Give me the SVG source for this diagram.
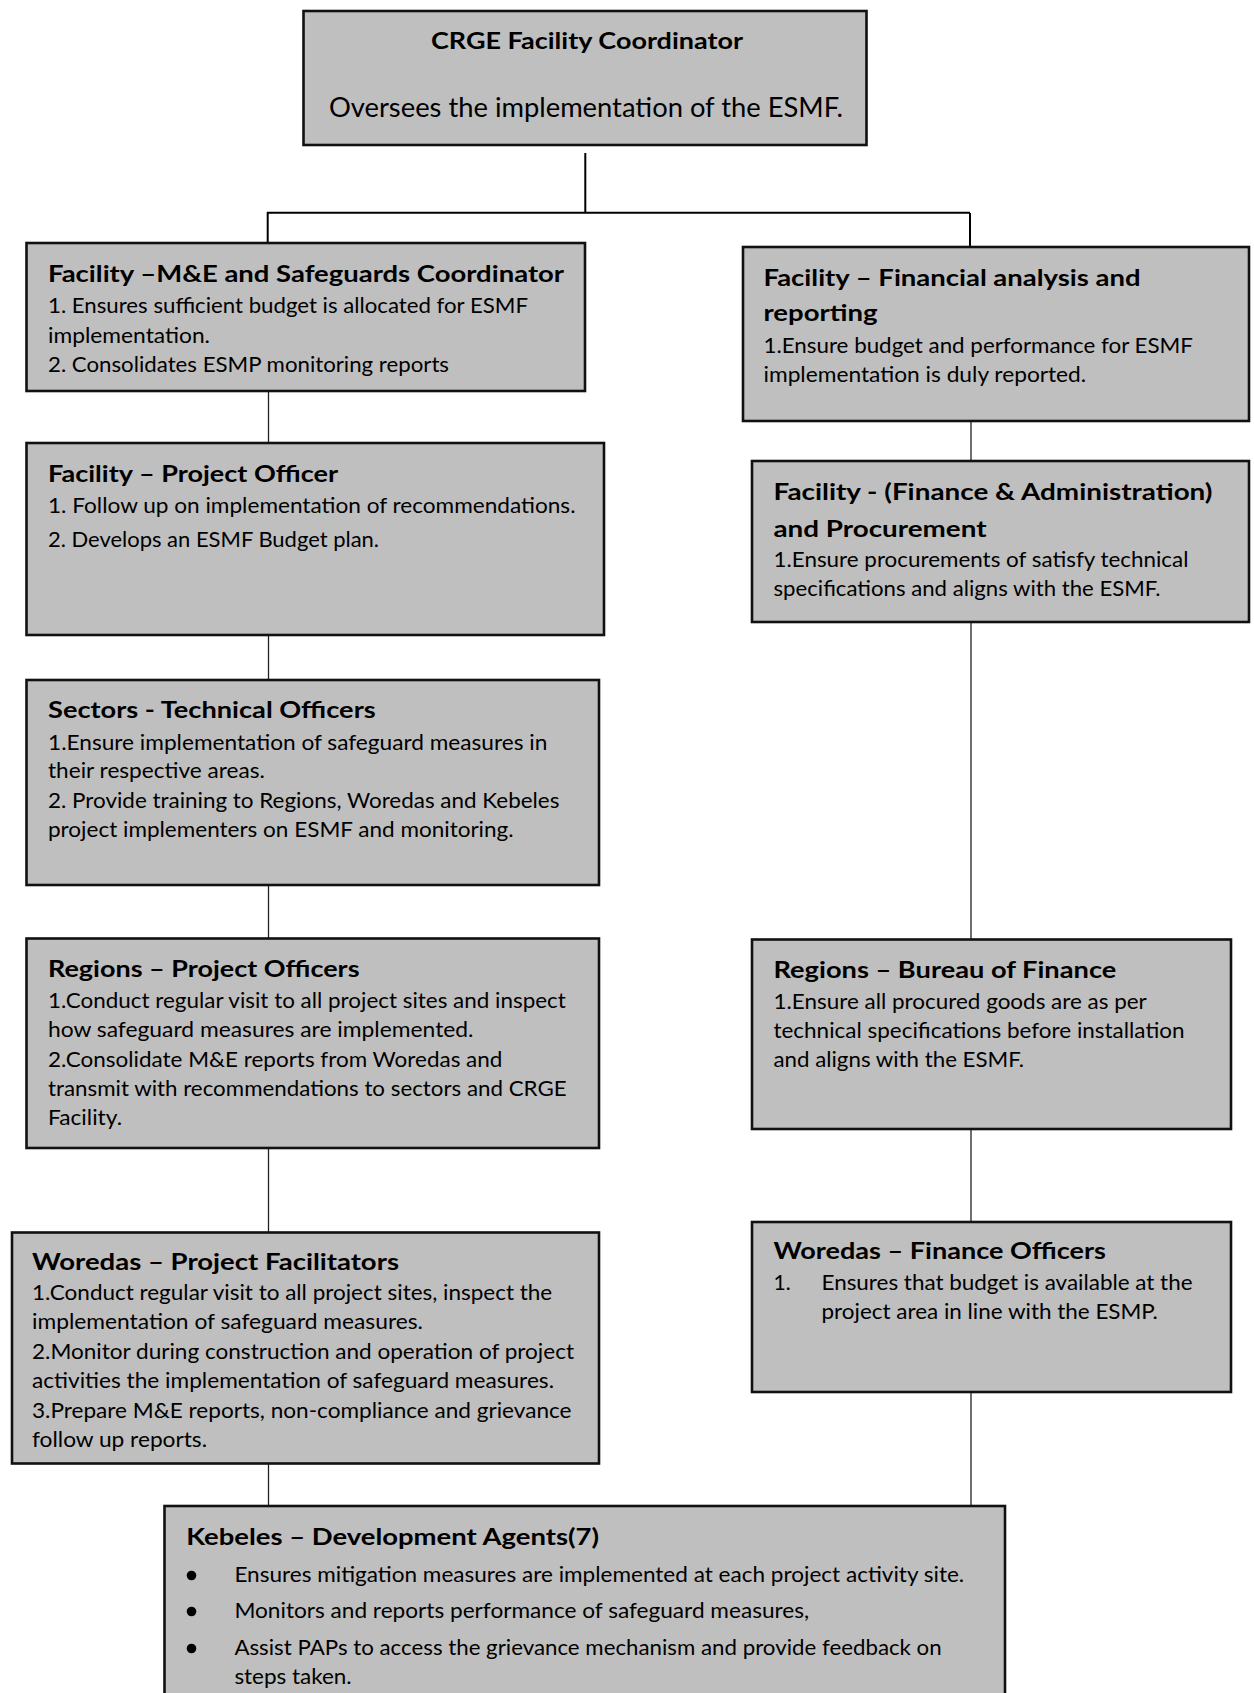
<svg xmlns="http://www.w3.org/2000/svg" width="1254" height="1693" viewBox="0 0 1254 1693">
<style>
.box{fill:#bfbfbf;stroke:#111;stroke-width:2.6}
.t{font-family:Lato,"Open Sans","Liberation Sans",sans-serif;font-weight:bold;font-size:23px;fill:#000}
.b{font-family:Lato,"Open Sans","Liberation Sans",sans-serif;font-size:21px;fill:#000}
.big{font-family:Lato,"Open Sans","Liberation Sans",sans-serif;font-size:26px;fill:#000}
.c1{stroke:#000;stroke-width:2;fill:none}
.c2{stroke:#222;stroke-width:1.3;fill:none}
</style>
<rect width="1254" height="1693" fill="#fff"/>
<g id="connectors">
<path class="c1" d="M585.3 153V213M267 212.7H970M267.7 212V243M970 213V247"/>
<path class="c2" d="M268.5 391V443M268.5 635V680M268.5 885V938.5M268.5 1148V1232.5M268.5 1463.5V1506"/>
<path class="c2" d="M971 421V461M971 622V939.5M971 1129V1222M971 1392V1506"/>
</g>
<g id="crge-coordinator">
<rect class="box" x="303.5" y="11" width="563" height="134"/>
<text class="t" x="431" y="49" textLength="312" lengthAdjust="spacingAndGlyphs">CRGE Facility Coordinator</text>
<text class="big" x="329" y="117" textLength="514" lengthAdjust="spacingAndGlyphs">Oversees the implementation of the ESMF.</text>
</g>
<g id="me-safeguards">
<rect class="box" x="26.5" y="243" width="558.5" height="148"/>
<text class="t" x="48" y="282" textLength="516" lengthAdjust="spacingAndGlyphs">Facility –M&amp;E and Safeguards Coordinator</text>
<text class="b" x="48" y="313" textLength="480" lengthAdjust="spacingAndGlyphs">1. Ensures sufficient budget is allocated for ESMF</text>
<text class="b" x="48" y="342.5" textLength="162" lengthAdjust="spacingAndGlyphs">implementation.</text>
<text class="b" x="48" y="372" textLength="401" lengthAdjust="spacingAndGlyphs">2. Consolidates ESMP monitoring reports</text>
</g>
<g id="financial-analysis">
<rect class="box" x="743" y="247" width="506" height="174"/>
<text class="t" x="763.5" y="286" textLength="377" lengthAdjust="spacingAndGlyphs">Facility – Financial analysis and</text>
<text class="t" x="763.5" y="320.5" textLength="114" lengthAdjust="spacingAndGlyphs">reporting</text>
<text class="b" x="763.5" y="352.7" textLength="429.5" lengthAdjust="spacingAndGlyphs">1.Ensure budget and performance for ESMF</text>
<text class="b" x="763.5" y="381.7" textLength="322.7" lengthAdjust="spacingAndGlyphs">implementation is duly reported.</text>
</g>
<g id="project-officer">
<rect class="box" x="26.5" y="443" width="577.5" height="192"/>
<text class="t" x="48" y="482" textLength="290" lengthAdjust="spacingAndGlyphs">Facility – Project Officer</text>
<text class="b" x="48" y="513.3" textLength="527.5" lengthAdjust="spacingAndGlyphs">1. Follow up on implementation of recommendations.</text>
<text class="b" x="48" y="547.3" textLength="331" lengthAdjust="spacingAndGlyphs">2. Develops an ESMF Budget plan.</text>
</g>
<g id="finance-admin-procurement">
<rect class="box" x="752" y="461" width="497" height="161"/>
<text class="t" x="773.5" y="500" textLength="439" lengthAdjust="spacingAndGlyphs">Facility - (Finance &amp; Administration)</text>
<text class="t" x="773.5" y="537.3" textLength="213" lengthAdjust="spacingAndGlyphs">and Procurement</text>
<text class="b" x="773.5" y="566.7" textLength="415" lengthAdjust="spacingAndGlyphs">1.Ensure procurements of satisfy technical</text>
<text class="b" x="773.5" y="596" textLength="387" lengthAdjust="spacingAndGlyphs">specifications and aligns with the ESMF.</text>
</g>
<g id="sectors-technical">
<rect class="box" x="26.5" y="680" width="572.5" height="205"/>
<text class="t" x="48" y="717.7" textLength="327.7" lengthAdjust="spacingAndGlyphs">Sectors - Technical Officers</text>
<text class="b" x="48" y="750" textLength="499.4" lengthAdjust="spacingAndGlyphs">1.Ensure implementation of safeguard measures in</text>
<text class="b" x="48" y="778.3" textLength="216.8" lengthAdjust="spacingAndGlyphs">their respective areas.</text>
<text class="b" x="48" y="808.3" textLength="511.4" lengthAdjust="spacingAndGlyphs">2. Provide training to Regions, Woredas and Kebeles</text>
<text class="b" x="48" y="837.3" textLength="465.6" lengthAdjust="spacingAndGlyphs">project implementers on ESMF and monitoring.</text>
</g>
<g id="regions-project-officers">
<rect class="box" x="26.5" y="938.5" width="572.5" height="209.5"/>
<text class="t" x="48" y="977" textLength="311.5" lengthAdjust="spacingAndGlyphs">Regions – Project Officers</text>
<text class="b" x="48" y="1008" textLength="517.8" lengthAdjust="spacingAndGlyphs">1.Conduct regular visit to all project sites and inspect</text>
<text class="b" x="48" y="1037" textLength="425.5" lengthAdjust="spacingAndGlyphs">how safeguard measures are implemented.</text>
<text class="b" x="48" y="1067" textLength="454.4" lengthAdjust="spacingAndGlyphs">2.Consolidate M&amp;E reports from Woredas and</text>
<text class="b" x="48" y="1096" textLength="518.6" lengthAdjust="spacingAndGlyphs">transmit with recommendations to sectors and CRGE</text>
<text class="b" x="48" y="1125" textLength="74" lengthAdjust="spacingAndGlyphs">Facility.</text>
</g>
<g id="regions-bureau-finance">
<rect class="box" x="752" y="939.5" width="479" height="189.5"/>
<text class="t" x="773.5" y="978" textLength="342.8" lengthAdjust="spacingAndGlyphs">Regions – Bureau of Finance</text>
<text class="b" x="773.5" y="1009" textLength="373.3" lengthAdjust="spacingAndGlyphs">1.Ensure all procured goods are as per</text>
<text class="b" x="773.5" y="1038" textLength="411" lengthAdjust="spacingAndGlyphs">technical specifications before installation</text>
<text class="b" x="773.5" y="1067" textLength="250.5" lengthAdjust="spacingAndGlyphs">and aligns with the ESMF.</text>
</g>
<g id="woredas-project-facilitators">
<rect class="box" x="12" y="1232.5" width="587" height="231"/>
<text class="t" x="32" y="1270" textLength="367" lengthAdjust="spacingAndGlyphs">Woredas – Project Facilitators</text>
<text class="b" x="32" y="1300" textLength="520.2" lengthAdjust="spacingAndGlyphs">1.Conduct regular visit to all project sites, inspect the</text>
<text class="b" x="32" y="1329" textLength="391" lengthAdjust="spacingAndGlyphs">implementation of safeguard measures.</text>
<text class="b" x="32" y="1359" textLength="542" lengthAdjust="spacingAndGlyphs">2.Monitor during construction and operation of project</text>
<text class="b" x="32" y="1388" textLength="522" lengthAdjust="spacingAndGlyphs">activities the implementation of safeguard measures.</text>
<text class="b" x="32" y="1418" textLength="539.5" lengthAdjust="spacingAndGlyphs">3.Prepare M&amp;E reports, non-compliance and grievance</text>
<text class="b" x="32" y="1447" textLength="175" lengthAdjust="spacingAndGlyphs">follow up reports.</text>
</g>
<g id="woredas-finance-officers">
<rect class="box" x="752" y="1222" width="479" height="170"/>
<text class="t" x="773.5" y="1259" textLength="332.4" lengthAdjust="spacingAndGlyphs">Woredas – Finance Officers</text>
<text class="b" x="773.5" y="1290">1.</text>
<text class="b" x="821.5" y="1290" textLength="371" lengthAdjust="spacingAndGlyphs">Ensures that budget is available at the</text>
<text class="b" x="821.5" y="1319" textLength="336.4" lengthAdjust="spacingAndGlyphs">project area in line with the ESMP.</text>
</g>
<g id="kebeles-development-agents">
<rect class="box" x="164.5" y="1506" width="840.5" height="200"/>
<text class="t" x="186.3" y="1545" textLength="412.7" lengthAdjust="spacingAndGlyphs">Kebeles – Development Agents(7)</text>
<circle cx="191.5" cy="1575.5" r="4.8" fill="#000"/>
<circle cx="191.5" cy="1611.5" r="4.8" fill="#000"/>
<circle cx="191.5" cy="1648.5" r="4.8" fill="#000"/>
<text class="b" x="234.4" y="1582" textLength="729.8" lengthAdjust="spacingAndGlyphs">Ensures mitigation measures are implemented at each project activity site.</text>
<text class="b" x="234.4" y="1618" textLength="574.8" lengthAdjust="spacingAndGlyphs">Monitors and reports performance of safeguard measures,</text>
<text class="b" x="234.4" y="1655" textLength="707.3" lengthAdjust="spacingAndGlyphs">Assist PAPs to access the grievance mechanism and provide feedback on</text>
<text class="b" x="234.4" y="1684" textLength="117.2" lengthAdjust="spacingAndGlyphs">steps taken.</text>
</g>
</svg>
